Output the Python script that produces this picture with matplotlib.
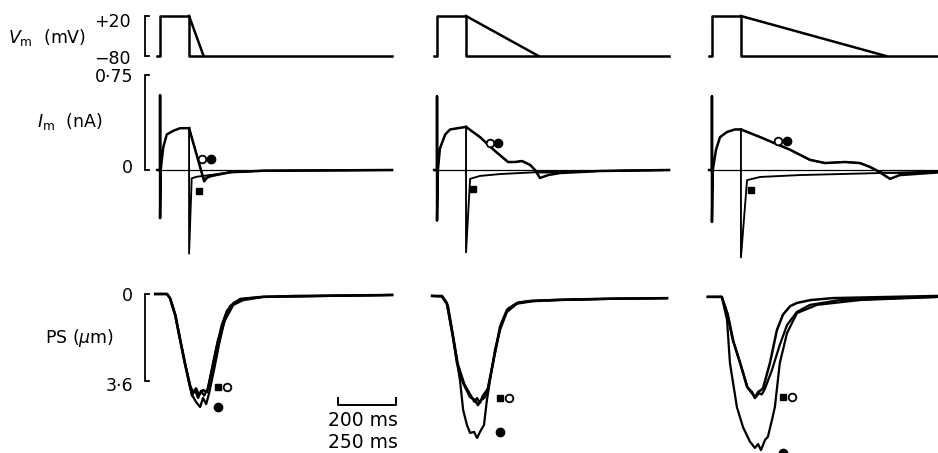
import matplotlib
matplotlib.use("Agg")
import matplotlib.pyplot as plt

plt.rcParams['font.family'] = ['DejaVu Sans']
plt.rcParams['mathtext.fontset'] = 'dejavusans'

# --- data (time in ms from pulse onset) ---
step_dur = 100
ramp_dur = [50, 250, 500]          # repolarising ramp, one per column
v_hold, v_pulse = -80, 20          # mV
t_end = 800

# membrane current (nA): shared "on" part, square-pulse tail (■), ramp traces (○, ●)
im_on_t = [[-10, 0, 0, 0, 2, 11, 23, 46, 69, 100],
           [-10, 0, 0, 0, 3, 10, 28, 45, 72, 100],
           [-10, 0, 0, 0, 3, 14, 28, 52, 79, 100]]
im_on_i = [[0, 0, 0.59, -0.38, 0, 0.18, 0.28, 0.31, 0.33, 0.33],
           [0, 0, 0.58, -0.40, 0, 0.17, 0.28, 0.32, 0.33, 0.34],
           [0, 0, 0.58, -0.41, 0, 0.16, 0.26, 0.30, 0.32, 0.32]]
im_sq_t = [[100, 100, 109, 127, 172, 241, 355, 800],
           [100, 100, 114, 148, 217, 355, 562, 800],
           [100, 100, 121, 166, 303, 579, 800]]
im_sq_i = [[0.33, -0.66, -0.066, -0.053, -0.04, -0.018, -0.006, 0],
           [0.34, -0.65, -0.07, -0.047, -0.032, -0.016, -0.008, 0],
           [0.32, -0.69, -0.08, -0.055, -0.04, -0.024, -0.01]]
im_ro_t = [[100, 152, 162, 180, 241, 355, 800],
           [100, 148, 200, 245, 269, 293, 321, 338, 355, 383, 424, 562, 800],
           [100, 166, 269, 338, 390, 459, 510, 545, 572, 614, 648, 800]]
im_ro_i = [[0.33, -0.09, -0.06, -0.045, -0.018, -0.006, 0],
           [0.34, 0.26, 0.15, 0.063, 0.063, 0.071, 0.04, 0, -0.063, -0.04, -0.024, -0.008, 0],
           [0.32, 0.26, 0.16, 0.08, 0.055, 0.063, 0.055, 0.024, -0.008, -0.07, -0.04, -0.016]]
im_rf_t = [[100, 150, 165, 185, 241, 355, 800],
           [100, 148, 200, 245, 269, 293, 321, 338, 350, 400, 562, 800],
           [100, 166, 269, 338, 390, 459, 510, 545, 572, 590, 650, 800]]
im_rf_i = [[0.33, -0.07, -0.055, -0.045, -0.018, -0.006, 0],
           [0.34, 0.26, 0.15, 0.063, 0.063, 0.071, 0.04, 0, -0.02, -0.02, -0.008, 0],
           [0.32, 0.26, 0.16, 0.08, 0.055, 0.063, 0.055, 0.024, -0.008, -0.02, -0.025, -0.015]]

# pellicle shortening (µm), traces ■, ○, ●
ps_sq_t = [[-17, 24, 34, 52, 69, 86, 103, 114, 124, 134, 148, 162, 166, 183, 200, 224, 252, 286, 355, 472, 800],
           [-17, 17, 34, 55, 69, 90, 114, 131, 141, 152, 162, 172, 193, 217, 241, 276, 321, 400, 562, 793],
           [-14, 34, 52, 72, 97, 121, 138, 148, 159, 169, 176, 200, 224, 245, 270, 293, 340, 417, 779]]
ps_sq_d = [[0, 0, 0.17, 0.87, 1.9, 2.9, 3.76, 4.1, 3.9, 4.17, 3.97, 4.05, 3.84, 2.85, 1.9, 1.07, 0.45, 0.25, 0.12, 0.08, 0.04],
           [0.08, 0.08, 0.37, 1.78, 2.85, 3.68, 4.26, 4.38, 4.59, 4.38, 4.3, 4.1, 2.85, 1.36, 0.66, 0.37, 0.29, 0.25, 0.2, 0.17],
           [0.12, 0.12, 0.79, 1.9, 2.85, 3.84, 4.05, 4.3, 4.05, 3.97, 3.9, 2.85, 1.49, 0.85, 0.5, 0.37, 0.25, 0.17, 0.08]]
ps_op_t = [[-17, 24, 36, 54, 71, 88, 100, 110, 120, 131, 141, 152, 165, 178, 195, 212, 230, 255, 290, 355, 800],
           [-17, 17, 38, 58, 72, 95, 117, 128, 138, 148, 158, 176, 197, 221, 245, 280, 330, 420, 600, 793],
           [-14, 34, 55, 75, 100, 124, 141, 152, 162, 172, 183, 207, 234, 259, 293, 338, 441, 779]]
ps_op_d = [[0, 0, 0.2, 0.9, 1.95, 2.95, 3.6, 4.2, 3.95, 4.3, 4.0, 4.2, 3.9, 3.2, 2.2, 1.3, 0.7, 0.35, 0.2, 0.12, 0.04],
           [0.08, 0.1, 0.5, 1.9, 2.9, 3.75, 4.2, 4.45, 4.3, 4.5, 4.2, 3.9, 2.6, 1.25, 0.6, 0.35, 0.28, 0.24, 0.2, 0.17],
           [0.12, 0.12, 0.85, 2.0, 2.95, 3.9, 4.15, 4.25, 4.1, 4.15, 3.9, 3.14, 2.1, 1.28, 0.74, 0.45, 0.25, 0.12]]
ps_fi_t = [[-17, 24, 34, 52, 69, 86, 100, 110, 124, 138, 148, 159, 169, 186, 203, 221, 241, 276, 345, 800],
           [-17, 17, 34, 55, 79, 90, 103, 114, 128, 138, 148, 162, 172, 183, 200, 217, 241, 276, 330, 420, 600, 793],
           [-14, 34, 52, 62, 86, 107, 131, 148, 159, 169, 183, 193, 207, 217, 234, 259, 293, 362, 510, 779]]
ps_fi_d = [[0, 0, 0.17, 0.87, 1.9, 2.9, 3.7, 4.17, 4.46, 4.67, 4.3, 4.55, 4.1, 3.14, 2.1, 1.16, 0.5, 0.2, 0.12, 0.04],
           [0.08, 0.1, 0.4, 1.8, 3.55, 4.79, 5.41, 5.74, 5.7, 5.95, 5.7, 5.41, 4.38, 3.55, 2.3, 1.49, 0.74, 0.4, 0.3, 0.25, 0.2, 0.17],
           [0.12, 0.12, 1.07, 2.85, 4.67, 5.5, 6.1, 6.36, 6.2, 6.45, 6.03, 5.9, 5.2, 4.67, 2.85, 1.61, 0.79, 0.45, 0.25, 0.12]]

# symbol positions (time, value)
im_marks = {'o': [(145, 0.087), (183, 0.21), (228, 0.23)],
            'f': [(176, 0.087), (210, 0.21), (259, 0.23)],
            's': [(134, -0.166), (124, -0.15), (134, -0.16)]}
ps_marks = {'s': [(200, 3.84), (217, 4.3), (245, 4.26)],
            'o': [(231, 3.84), (248, 4.3), (276, 4.26)],
            'f': [(200, 4.67), (217, 5.7), (245, 6.57)]}

# --- layout ---
W, H = 938, 453
px_per_ms = 0.29
onset = [552, 1507, 2455]   # ms from figure left edge to pulse onset of each column

fig = plt.figure(figsize=(W / 100, H / 100), dpi=100)


def make_ax(top, bottom, ylim):
    ax = fig.add_axes([0, 1 - bottom / H, 1, (bottom - top) / H])
    ax.set_xlim(0, W / px_per_ms)
    ax.set_ylim(*ylim)
    ax.axis('off')
    ax.patch.set_alpha(0)
    return ax


ax_v = make_ax(0, 70, (-115, 60))
ax_i = make_ax(62, 270, (-100 / 126.7, 108 / 126.7))
ax_p = make_ax(272, 453, ((453 - 294) / 24.2, -(294 - 272) / 24.2))

lw = 1.8
for c in range(3):
    t0 = onset[c]
    # voltage protocol: square pulse and ramp
    ax_v.plot([t0 - 10, t0, t0, t0 + step_dur, t0 + step_dur, t0 + t_end],
              [v_hold, v_hold, v_pulse, v_pulse, v_hold, v_hold], 'k-', lw=lw)
    ax_v.plot([t0 + step_dur, t0 + step_dur + ramp_dur[c]], [v_pulse, v_hold], 'k-', lw=lw)

    # current
    ax_i.plot([t0 - 10, t0 + t_end], [0, 0], 'k-', lw=0.9)
    ax_i.plot([t0 + t for t in im_on_t[c]], im_on_i[c], 'k-', lw=lw)
    ax_i.plot([t0 + t for t in im_sq_t[c]], im_sq_i[c], 'k-', lw=lw * 0.75)
    ax_i.plot([t0 + t for t in im_ro_t[c]], im_ro_i[c], 'k-', lw=lw)
    ax_i.plot([t0 + t for t in im_rf_t[c]], im_rf_i[c], 'k-', lw=lw * 0.7)

    # shortening
    ax_p.plot([t0 + t for t in ps_sq_t[c]], ps_sq_d[c], 'k-', lw=lw)
    ax_p.plot([t0 + t for t in ps_op_t[c]], ps_op_d[c], 'k-', lw=lw * 0.9)
    ax_p.plot([t0 + t for t in ps_fi_t[c]], ps_fi_d[c], 'k-', lw=lw * 0.9)

    # symbols
    for ax, marks in ((ax_i, im_marks), (ax_p, ps_marks)):
        t, y = marks['o'][c]
        ax.plot(t0 + t, y, 'o', ms=5.5, mfc='white', mec='black', mew=1.3, clip_on=False)
        t, y = marks['f'][c]
        ax.plot(t0 + t, y, 'o', ms=6, mfc='black', mec='black', clip_on=False)
        t, y = marks['s'][c]
        ax.plot(t0 + t, y, 's', ms=5, mfc='black', mec='black', clip_on=False)


def bracket(ax, x, y0, y1):
    dx = 4 / px_per_ms
    ax.plot([x + dx, x, x, x + dx], [y0, y0, y1, y1], 'k-', lw=1.3,
            solid_joinstyle='miter', clip_on=False)


bx = 145 / px_per_ms
bracket(ax_v, bx, v_pulse, v_hold)
bracket(ax_i, bx, 0.75, 0)
bracket(ax_p, bx, 0, 3.6)

# time scale bar (200 ms)
sb_x0 = 338 / px_per_ms
sb_y = (405 - 294) / 24.2
sb_tick = 7 / 24.2
ax_p.plot([sb_x0, sb_x0, sb_x0 + 200, sb_x0 + 200],
          [sb_y - sb_tick, sb_y, sb_y, sb_y - sb_tick], 'k-', lw=1.4, clip_on=False)


def ftext(x, y, s, ha, size=12.5):
    fig.text(x / W, 1 - y / H, s, ha=ha, va='center', fontsize=size)


ftext(8, 38, r'$V_{\rm m}$  (mV)', 'left')
ftext(131, 22, '+20', 'right')
ftext(131, 59, '\u221280', 'right')
ftext(133, 77, '0\u00b775', 'right')
ftext(37, 122, r'$I_{\rm m}$  (nA)', 'left')
ftext(133, 168, '0', 'right')
ftext(133, 296, '0', 'right')
ftext(45, 338, r'PS ($\mu$m)', 'left')
ftext(133, 386, '3\u00b76', 'right')
ftext(363, 421, '200 ms', 'center', 13.5)
ftext(363, 442, '250 ms', 'center', 13.5)

fig.savefig('out.png', dpi=100)
